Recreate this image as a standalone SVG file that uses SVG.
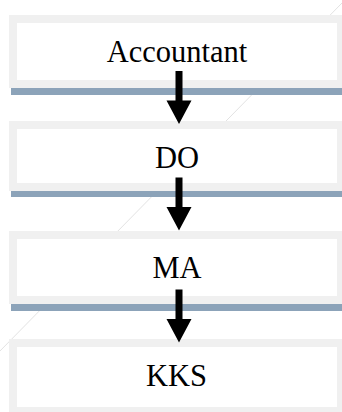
<svg xmlns="http://www.w3.org/2000/svg" width="342" height="412" viewBox="0 0 342 412">
  <style>
    .frame { fill: #ffffff; stroke: #f0f0f0; stroke-width: 8; }
    .rule { fill: #8ca3b9; }
    .label { font-family: "Liberation Serif", "Times New Roman", serif; font-size: 30.5px; fill: #000000; text-anchor: middle; }
    .arrow { fill: #000000; }
  </style>
  <defs>
    <!-- down arrow: shaft 7 wide, head 25 wide; origin at top of shaft -->
    <path id="downArrow" d="M -3.5 0 H 3.5 V 29.5 H 12.5 L 0 53 L -12.5 29.5 H -3.5 Z"/>
  </defs>

  <rect width="342" height="412" fill="#ffffff"/>
  <!-- faint diagonal hairline behind the boxes -->
  <line x1="343" y1="2" x2="-2" y2="353" stroke="#e2e2e2" stroke-width="1"/>

  <g id="node-accountant">
    <rect class="frame" x="13" y="19" width="328" height="65"/>
    <rect class="rule" x="11" y="88" width="331" height="7"/>
    <text class="label" x="177" y="62">Accountant</text>
  </g>

  <g id="node-do">
    <rect class="frame" x="13" y="125" width="328" height="62"/>
    <rect class="rule" x="11" y="191" width="331" height="6"/>
    <text class="label" x="177" y="167.5">DO</text>
  </g>

  <g id="node-ma">
    <rect class="frame" x="13" y="235" width="328" height="65"/>
    <rect class="rule" x="11" y="304" width="331" height="7"/>
    <text class="label" x="177" y="278">MA</text>
  </g>

  <g id="node-kks">
    <rect class="frame" x="13" y="343" width="328" height="68"/>
    <text class="label" x="176.5" y="386">KKS</text>
  </g>

  <g id="connectors">
    <use href="#downArrow" class="arrow" x="179" y="71"/>
    <use href="#downArrow" class="arrow" x="179" y="177.5"/>
    <use href="#downArrow" class="arrow" x="179" y="289.5"/>
  </g>
</svg>
